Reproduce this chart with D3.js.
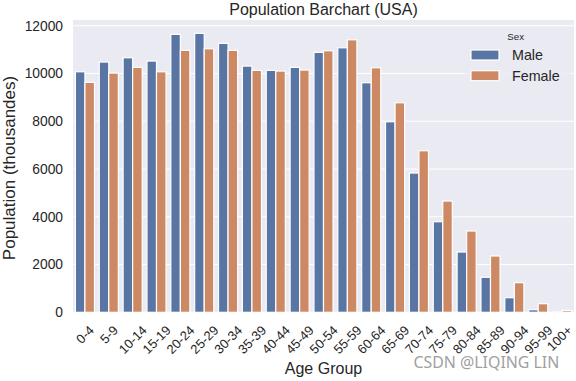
<!DOCTYPE html>
<html>
<head>
<meta charset="utf-8">
<script src="https://cdn.jsdelivr.net/npm/d3@7"></script>
<style>
  html, body { margin: 0; padding: 0; background: #fff; }
  svg { display: block; }
  text { font-family: Arial, "Liberation Sans", sans-serif; fill: #262626; }
</style>
</head>
<body>
<svg id="chart" width="576" height="381"></svg>
<script>
const ageGroups = ["0-4","5-9","10-14","15-19","20-24","25-29","30-34","35-39","40-44","45-49",
  "50-54","55-59","60-64","65-69","70-74","75-79","80-84","85-89","90-94","95-99","100+"];
const sexes = ["Male", "Female"];
const maleValues = [10075, 10482, 10662, 10524, 11642, 11683, 11265, 10314, 10134, 10260,
  10888, 11080, 9615, 7982, 5833, 3794, 2525, 1466, 612, 109, 15];
const femaleValues = [9631, 10021, 10260, 10075, 10972, 11039, 10972, 10134, 10105, 10147,
  10955, 11415, 10243, 8777, 6767, 4661, 3405, 2358, 1240, 360, 75];
const yTicks = [0, 2000, 4000, 6000, 8000, 10000, 12000];
const colors = { Male: "#5975A4", Female: "#CC8963" };

const svg = d3.select("#chart");
const W = 576;
const L = 73, R = 574, T = 20, B = 312.3;

const data = ageGroups.map((g, i) => ({ group: g, values: [
  { sex: "Male", value: maleValues[i] },
  { sex: "Female", value: femaleValues[i] }
]}));

const yMax = d3.max(maleValues.concat(femaleValues)) * 1.048;
const x = d3.scaleBand().domain(ageGroups).range([L, R]).padding(0);
const bw = x.bandwidth();
const xs = d3.scaleBand().domain(sexes).range([0.1 * bw, 0.9 * bw]).padding(0);
const y = d3.scaleLinear().domain([0, yMax]).range([B, T]);

// background
svg.append("rect").attr("x", L).attr("y", T).attr("width", R - L).attr("height", B - T).attr("fill", "#EAEAF2");

// grid
svg.append("g").selectAll("line").data(yTicks).join("line")
  .attr("x1", L).attr("x2", R)
  .attr("y1", d => y(d)).attr("y2", d => y(d))
  .attr("stroke", "#fff").attr("stroke-width", 1.1);

// bars
const grp = svg.append("g").selectAll("g").data(data).join("g")
  .attr("transform", d => `translate(${x(d.group)},0)`);
grp.selectAll("rect").data(d => d.values).join("rect")
  .attr("x", d => xs(d.sex))
  .attr("width", xs.bandwidth())
  .attr("y", d => y(d.value))
  .attr("height", d => B - y(d.value))
  .attr("fill", d => colors[d.sex])
  .attr("stroke", "#fff").attr("stroke-width", 1.2);

// y axis
const yAxis = svg.append("g").attr("transform", `translate(${L},0)`)
  .call(d3.axisLeft(y).tickValues(yTicks).tickSize(0).tickPadding(10).tickFormat(d3.format("d")));
yAxis.select(".domain").remove();
yAxis.selectAll("text").attr("font-size", 13.8).attr("fill", "#262626")
  .style("font-family", "Arial, 'Liberation Sans', sans-serif");

// x axis
const xAxis = svg.append("g").attr("transform", `translate(0,${B})`)
  .call(d3.axisBottom(x).tickSize(0).tickPadding(0));
xAxis.select(".domain").remove();
const fsX = 13;
xAxis.selectAll(".tick text")
  .attr("font-size", fsX).attr("fill", "#262626")
  .style("font-family", "Arial, 'Liberation Sans', sans-serif")
  .attr("text-anchor", "middle")
  .attr("dy", "0.36em")
  .attr("y", 0)
  .each(function(d) {
    const w = this.getComputedTextLength();
    const c = 0.72 * fsX;
    const half = (w + 1.15 * fsX) / (2 * Math.SQRT2);
    const cx = x(d) + bw / 2;
    const dx = Math.min(0, (W - 1) - (cx + half));
    const cy = 12.2 + (w + c) / (2 * Math.SQRT2);
    d3.select(this).attr("transform", `translate(${dx},${cy}) rotate(-45)`);
  });

// title
svg.append("text").attr("x", (L + R) / 2).attr("y", 15).attr("text-anchor", "middle")
  .attr("font-size", 16).text("Population Barchart (USA)");

// axis labels
svg.append("text").attr("x", (L + R) / 2).attr("y", 374).attr("text-anchor", "middle")
  .attr("font-size", 16).text("Age Group");
svg.append("text").attr("transform", `translate(14.5,168) rotate(-90)`)
  .attr("text-anchor", "middle").attr("font-size", 17).text("Population (thousandes)");

// legend
const lg = svg.append("g");
lg.append("rect").attr("x", 465).attr("y", 29).attr("width", 106).attr("height", 60)
  .attr("fill", "#EAEAF2").attr("opacity", 0.8);
lg.append("text").attr("x", 515.7).attr("y", 39.5).attr("text-anchor", "middle")
  .attr("font-size", 9.7).text("Sex");
sexes.forEach((s, i) => {
  const yy = 50 + i * 20.7;
  lg.append("rect").attr("x", 471).attr("y", yy).attr("width", 28).attr("height", 10)
    .attr("fill", colors[s]).attr("stroke", "#fff").attr("stroke-width", 1.2);
  lg.append("text").attr("x", 512).attr("y", yy + 10).attr("font-size", 14.3).text(s);
});

// watermark
const wm = svg.append("text").attr("x", 413.5).attr("y", 367.5)
  .style("font-family", "'Noto Sans', 'Open Sans', sans-serif")
  .attr("font-size", 16).style("fill", "#a0a0a0").text("CSDN @LIQING LIN");
const wl = wm.node().getComputedTextLength();
wm.attr("font-size", 16 * 146 / wl);
</script>
</body>
</html>
